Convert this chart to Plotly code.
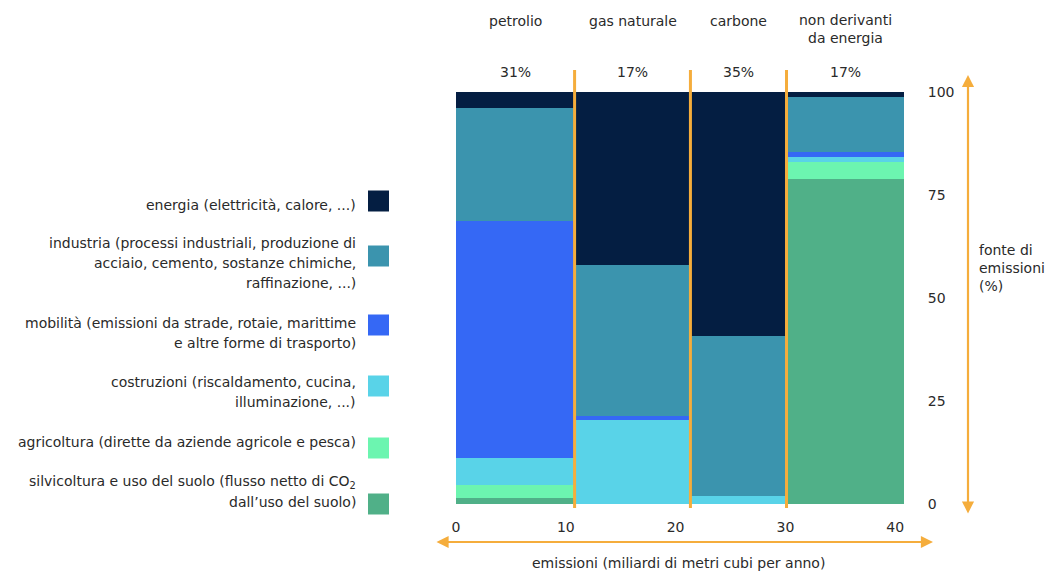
import plotly.graph_objects as go

# --- data -------------------------------------------------------------------
fuels = ["petrolio", "gas naturale", "carbone", "non derivanti<br>da energia"]
fuel_shares = ["31%", "17%", "35%", "17%"]
# column boundaries along the emissions axis
column_edges = [0, 10.8, 21.35, 30.1, 40.8]

sectors = [
    "silvicoltura e uso del suolo",
    "agricoltura",
    "costruzioni",
    "mobilità",
    "industria",
    "energia",
]
# share of each column (%) per sector, bottom to top
silvicoltura = [1.5, 0.0, 0.0, 78.9]
agricoltura = [3.2, 0.0, 0.0, 4.0]
costruzioni = [6.5, 20.4, 1.9, 1.3]
mobilita = [57.6, 1.0, 0.0, 1.2]
industria = [27.4, 36.7, 38.8, 13.5]
energia = [3.8, 41.9, 59.3, 1.1]
sector_values = [silvicoltura, agricoltura, costruzioni, mobilita, industria, energia]

sector_colors = ["#50B088", "#6CF5B0", "#59D3E8", "#3568F5", "#3B94AE", "#041E42"]

# legend texts, top to bottom (energia first)
legend_lines = [
    ["energia (elettricità, calore, ...)"],
    ["industria (processi industriali, produzione di",
     "acciaio, cemento, sostanze chimiche,",
     "raffinazione, ...)"],
    ["mobilità (emissioni da strade, rotaie, marittime",
     "e altre forme di trasporto)"],
    ["costruzioni (riscaldamento, cucina,",
     "illuminazione, ...)"],
    ["agricoltura (dirette da aziende agricole e pesca)"],
    ["silvicoltura e uso del suolo (flusso netto di CO<sub>2</sub>",
     "dall\u2019uso del suolo)"],
]
legend_colors = sector_colors[::-1]

x_ticks = [0, 10, 20, 30, 40]
y_ticks = [0, 25, 50, 75, 100]
x_title = "emissioni (miliardi di metri cubi per anno)"
y_title = "fonte di<br>emissioni<br>(%)"

# --- layout helpers -----------------------------------------------------------
W_FIG, H_FIG = 1057, 573
L, R, T, B = 456, 904, 92, 504          # plot area in pixels
PW, PH = R - L, B - T
ORANGE = "#F5AD3C"
TEXT = "#2a2a2a"
FONT = "DejaVu Sans"


def px_x(px):
    return (px - L) / PW


def px_y(py):
    return (B - py) / PH


centers = [(a + b) / 2 for a, b in zip(column_edges[:-1], column_edges[1:])]
widths = [b - a for a, b in zip(column_edges[:-1], column_edges[1:])]

fig = go.Figure()
for name, vals, col in zip(sectors, sector_values, sector_colors):
    fig.add_trace(go.Bar(
        x=centers, y=vals, width=widths, name=name,
        marker=dict(color=col, line=dict(width=0)),
        showlegend=False,
    ))

shapes = []
annotations = []

# orange separators between fuel columns
for e in column_edges[1:-1]:
    shapes.append(dict(type="line", xref="x", yref="paper",
                       x0=e, x1=e, y0=px_y(508), y1=px_y(70),
                       line=dict(color=ORANGE, width=3), layer="above"))

# fuel names and shares above the columns
for c, name, share in zip(centers, fuels, fuel_shares):
    two_lines = "<br>" in name
    annotations.append(dict(xref="x", yref="paper", x=c,
                            y=px_y(29 if two_lines else 21),
                            text=name, showarrow=False,
                            font=dict(size=14, color=TEXT, family=FONT),
                            xanchor="center", yanchor="middle"))
    annotations.append(dict(xref="x", yref="paper", x=c, y=px_y(72),
                            text=share, showarrow=False,
                            font=dict(size=14, color=TEXT, family=FONT),
                            xanchor="center", yanchor="middle"))

# double-headed axis arrows
annotations.append(dict(xref="paper", yref="paper", x=px_x(968), y=px_y(75),
                        ax=0, ay=440, axref="pixel", ayref="pixel", text="",
                        showarrow=True, arrowside="end+start", arrowhead=2,
                        arrowsize=1.1, arrowwidth=2.2, arrowcolor=ORANGE))
annotations.append(dict(xref="paper", yref="paper", x=px_x(933), y=px_y(542),
                        ax=-498, ay=0, axref="pixel", ayref="pixel", text="",
                        showarrow=True, arrowside="end+start", arrowhead=2,
                        arrowsize=1.1, arrowwidth=2.2, arrowcolor=ORANGE))

# axis titles
annotations.append(dict(xref="paper", yref="paper", x=px_x(678), y=px_y(563),
                        text=x_title, showarrow=False,
                        font=dict(size=14, color=TEXT, family=FONT),
                        xanchor="center", yanchor="middle"))
annotations.append(dict(xref="paper", yref="paper", x=px_x(977), y=px_y(268),
                        text=y_title, showarrow=False, align="left",
                        font=dict(size=14, color=TEXT, family=FONT),
                        xanchor="left", yanchor="middle"))

# legend on the left: right-aligned text, swatch to the right
first_line_y = [205, 243, 323, 382, 442, 482]
swatch_y = [201, 256, 325, 386, 448, 504]
for lines, col, y0, sy in zip(legend_lines, legend_colors, first_line_y, swatch_y):
    for k, line in enumerate(lines):
        annotations.append(dict(xref="paper", yref="paper", x=px_x(358),
                                y=px_y(y0 + 20 * k), text=line,
                                showarrow=False, align="right",
                                font=dict(size=14, color=TEXT, family=FONT),
                                xanchor="right", yanchor="middle"))
    shapes.append(dict(type="rect", xref="paper", yref="paper",
                       x0=px_x(368), x1=px_x(389),
                       y0=px_y(sy + 10.5), y1=px_y(sy - 10.5),
                       fillcolor=col, line=dict(width=0)))

fig.update_layout(
    width=W_FIG, height=H_FIG,
    margin=dict(l=L, r=W_FIG - R, t=T, b=H_FIG - B, autoexpand=False),
    paper_bgcolor="white", plot_bgcolor="white",
    barmode="stack", bargap=0,
    font=dict(family=FONT, size=14, color=TEXT),
    shapes=shapes, annotations=annotations,
    xaxis=dict(range=[column_edges[0], column_edges[-1]], tickvals=x_ticks,
               showgrid=False, zeroline=False, showline=False,
               ticks="outside", ticklen=10, tickcolor="rgba(0,0,0,0)",
               tickfont=dict(size=14, color=TEXT, family=FONT),
               fixedrange=True),
    yaxis=dict(range=[0, 100], tickvals=y_ticks, side="right",
               showgrid=False, zeroline=False, showline=False,
               ticks="outside", ticklen=20, tickcolor="rgba(0,0,0,0)",
               tickfont=dict(size=14, color=TEXT, family=FONT),
               fixedrange=True),
)

fig.write_html("out.html")
